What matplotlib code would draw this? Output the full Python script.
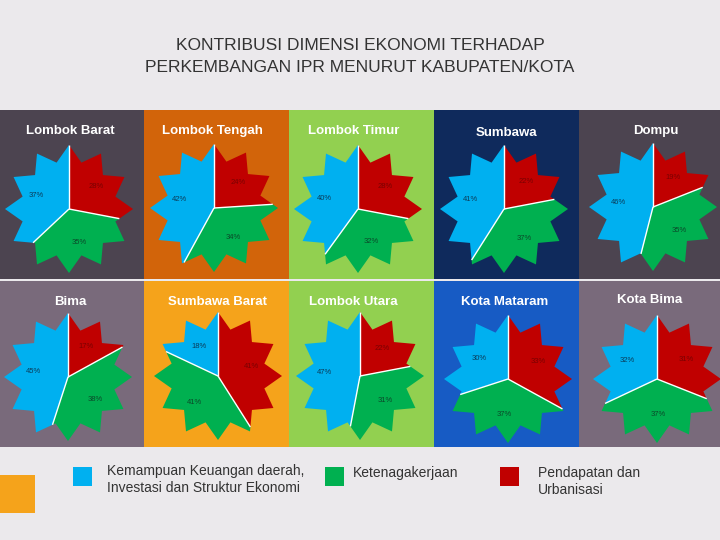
import numpy as np
import matplotlib
matplotlib.use("Agg")
import matplotlib.pyplot as plt
from matplotlib.patches import Polygon, Rectangle

# ---------------- data ----------------
regions = ["Lombok Barat", "Lombok Tengah", "Lombok Timur", "Sumbawa", "Dompu",
           "Bima", "Sumbawa Barat", "Lombok Utara", "Kota Mataram", "Kota Bima"]
red_vals = [28, 24, 28, 22, 19, 17, 41, 22, 33, 31]     # Pendapatan dan Urbanisasi
green_vals = [35, 34, 32, 37, 35, 38, 41, 31, 37, 37]   # Ketenagakerjaan
blue_vals = [37, 42, 40, 41, 46, 45, 18, 47, 30, 32]    # Kemampuan Keuangan ...
legend_labels = ["Kemampuan Keuangan daerah,\nInvestasi dan Struktur Ekonomi",
                 "Ketenagakerjaan", "Pendapatan dan\nUrbanisasi"]
title = "KONTRIBUSI DIMENSI EKONOMI TERHADAP\nPERKEMBANGAN IPR MENURUT KABUPATEN/KOTA"

# ---------------- style ----------------
plt.rcParams['font.family'] = ['Liberation Sans', 'DejaVu Sans']
BLUE, GREEN, RED = '#00b0f0', '#00b050', '#c00000'
panel_colors = ['#4c4450', '#d2640a', '#92d050', '#0f2a5c', '#4c4450',
                '#796a7b', '#f5a31b', '#92d050', '#175bc4', '#796a7b']
col_edges = [0, 144, 289, 434, 579, 720]
row_edges = [(110, 278.5), (280.5, 447)]
centers = [(69, 209), (214, 208), (358, 209), (504, 209), (653, 207),
           (68, 377), (218, 376), (360, 376), (508, 379), (657, 379)]
title_pos = [(70, 131), (212, 131), (354, 131), (506, 133), (656, 131),
             (70, 302), (217, 302), (353, 302), (505, 302), (650, 300)]
R = 64
INNER = 0.75
NPTS = 12

fig = plt.figure(figsize=(7.2, 5.4), dpi=100)
fig.patch.set_facecolor('#ebe9ec')
ax = fig.add_axes([0, 0, 1, 1])
ax.set_xlim(0, 720)
ax.set_ylim(540, 0)
ax.axis('off')


def star_vertex(k, r):
    a = np.deg2rad(k * 180.0 / NPTS)
    rr = r if k % 2 == 0 else r * INNER
    return np.array([rr * np.sin(a), -rr * np.cos(a)])


def boundary(t_deg, r):
    step = 180.0 / NPTS
    k = int(np.floor(t_deg / step)) % (2 * NPTS)
    p0 = star_vertex(k, r)
    p1 = star_vertex(k + 1, r)
    a = np.deg2rad(t_deg)
    d = np.array([np.sin(a), -np.cos(a)])
    e = p1 - p0
    cross = lambda u, v: u[0] * v[1] - u[1] * v[0]
    lam = cross(p0, e) / cross(d, e)
    return lam * d


def wedge(t0, t1, r):
    step = 180.0 / NPTS
    pts = [np.zeros(2), boundary(t0, r)]
    k = int(np.floor(t0 / step)) + 1
    while k * step < t1 - 1e-9:
        pts.append(star_vertex(k, r))
        k += 1
    pts.append(boundary(min(t1, 359.999), r) if t1 < 360 else star_vertex(2 * NPTS, r))
    return np.array(pts)


for i, name in enumerate(regions):
    row, col = divmod(i, 5)
    y0, y1 = row_edges[row]
    x0, x1 = col_edges[col], col_edges[col + 1]
    ax.add_patch(Rectangle((x0, y0), x1 - x0, y1 - y0, facecolor=panel_colors[i],
                           edgecolor='none', zorder=1))
    tx, ty = title_pos[i]
    ax.text(tx, ty, name, color='white', fontsize=9.5, fontweight='bold',
            ha='center', va='center', zorder=5)
    cx, cy = centers[i]
    vals = [red_vals[i], green_vals[i], blue_vals[i]]
    cols = [RED, GREEN, BLUE]
    lab_cols = ['#7a0000', '#0b4a2a', '#0b3c5a']
    total = float(sum(vals))
    start = 0.0
    bounds = []
    for v, c, lc in zip(vals, cols, lab_cols):
        end = start + 360.0 * v / total
        pts = wedge(start, end, R) + np.array([cx, cy])
        ax.add_patch(Polygon(pts, closed=True, facecolor=c, edgecolor='none', zorder=2))
        mid = np.deg2rad((start + end) / 2)
        lr = 0.55 * R
        ax.text(cx + lr * np.sin(mid), cy - lr * np.cos(mid), f"{v}%",
                fontsize=5.5, color=lc, ha='center', va='center', zorder=4)
        bounds.append(start)
        start = end
    for b in bounds:
        p = boundary(b, R) + np.array([cx, cy])
        ax.plot([cx, p[0]], [cy, p[1]], color='white', lw=1.0, zorder=3,
                solid_capstyle='butt')

ax.text(360, 45, title.split('\n')[0], fontsize=12.5, color='#333333',
        ha='center', va='center')
ax.text(360, 68, title.split('\n')[1], fontsize=12.5, color='#333333',
        ha='center', va='center')

# legend
ax.add_patch(Rectangle((0, 475), 35, 38, facecolor='#f5a31b', edgecolor='none'))
leg_items = [(73, BLUE, 107, 472), (325, GREEN, 353, 474), (500, RED, 538, 474)]
for (sx, c, tx, ty), lab in zip(leg_items, legend_labels):
    ax.add_patch(Rectangle((sx, 467), 19, 19, facecolor=c, edgecolor='none'))
    ax.text(tx, ty - 8, lab, fontsize=10, color='#333333', ha='left', va='top',
            linespacing=1.25)

fig.savefig('out.png', dpi=100, facecolor=fig.get_facecolor())
